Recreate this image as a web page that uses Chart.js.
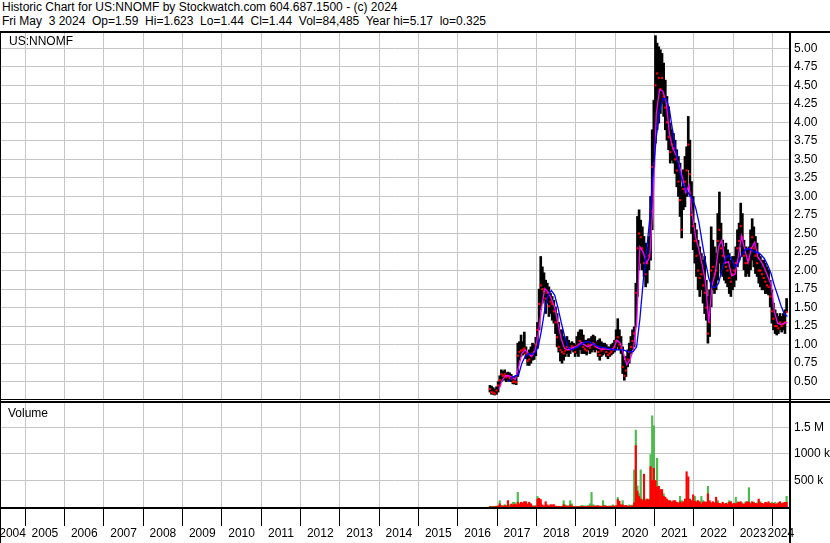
<!DOCTYPE html>
<html>
<head>
<meta charset="utf-8">
<script src="https://cdn.jsdelivr.net/npm/chart.js@4.4.1/dist/chart.umd.min.js"></script>
<style>
  body { margin: 0; background: #fff; }
  #wrap { position: relative; width: 830px; height: 543px; overflow: hidden;
          font-family: Arial, "Liberation Sans", sans-serif; font-size: 12px; color: #000; }
  .txt { position: absolute; white-space: pre; line-height: 14px; }
  .ln { position: absolute; background: #000; }
  canvas { position: absolute; left: 0; }
</style>
</head>
<body>
<div id="wrap">
  <div class="txt" style="left:2px;top:0">Historic Chart for US:NNOMF by Stockwatch.com 604.687.1500 - (c) 2024
Fri May  3 2024  Op=1.59  Hi=1.623  Lo=1.44  Cl=1.44  Vol=84,485  Year hi=5.17  lo=0.325</div>
  <canvas id="priceChart" width="830" height="366" style="top:33px"></canvas>
  <canvas id="volChart" width="830" height="140" style="top:403px"></canvas>
  <div class="txt" style="left:9px;top:34px">US:NNOMF</div>
  <div class="txt" style="left:8px;top:406px">Volume</div>
  <div class="ln" style="left:0;top:31px;width:830px;height:2px"></div>
  <div class="ln" style="left:0;top:399px;width:830px;height:1px"></div>
  <div class="ln" style="left:0;top:401px;width:830px;height:2px"></div>
  <div class="ln" style="left:0;top:507px;width:790px;height:2px"></div>
  <div class="ln" style="left:789px;top:31px;width:2px;height:512px"></div>
  <div class="ln" style="left:0;top:31px;width:1px;height:512px"></div>
</div>
<script>
// half-month periods, first one = second half of Oct 2016
const firstPeriod = 2016.8125;
const periodLen = 1 / 24;

const hiPrice = [
  0.45, 0.44, 0.42, 0.40, 0.43,
  0.50, 0.58, 0.66, 0.64, 0.66, 0.62, 0.63, 0.62, 0.60, 0.57, 0.57, 0.58, 1.02, 1.04, 1.13, 1.04, 1.17, 0.97, 0.88, 0.93, 0.97, 1.02, 1.00, 1.10,
  1.30, 1.75, 2.19, 2.05, 1.97, 1.87, 1.83, 1.78, 1.69, 1.65, 1.60, 1.51, 1.42, 1.30, 1.20, 1.20, 1.11, 1.06, 1.11, 1.06, 1.02, 1.04, 1.02, 1.00,
  1.11, 1.17, 1.20, 1.20, 1.13, 1.06, 1.06, 1.08, 1.08, 1.11, 1.13, 1.11, 1.04, 1.06, 1.08, 1.04, 1.02, 1.02, 1.00, 0.97, 0.97, 1.00, 1.02, 1.06,
  1.20, 1.35, 1.20, 1.11, 0.97, 0.79, 0.84, 0.93, 1.02, 1.11, 1.20, 1.24, 1.83, 2.73, 2.82, 2.68, 2.59, 2.46, 2.37, 2.32, 2.46, 3.00, 3.90, 4.30,
  5.17, 5.07, 5.02, 4.98, 4.93, 4.80, 4.57, 4.35, 4.21, 3.99, 3.90, 3.85, 3.76, 3.63, 3.54, 3.45, 3.13, 3.36, 3.54, 3.67, 4.08, 3.76, 3.20, 3.00,
  2.64, 2.55, 2.41, 2.32, 2.23, 2.14, 2.19, 1.87, 1.65, 1.74, 2.59, 2.41, 2.32, 2.23, 2.77, 3.06, 2.64, 2.41, 2.32, 2.37, 2.28, 2.23, 2.14, 2.19,
  2.19, 2.32, 2.55, 2.64, 2.91, 2.77, 2.41, 2.32, 2.28, 2.32, 2.55, 2.70, 2.59, 2.46, 2.37, 2.23, 2.19, 2.14, 2.14, 2.10, 2.05, 2.01, 1.87, 1.74,
  1.56, 1.47, 1.42, 1.38, 1.42, 1.38, 1.42, 1.47, 1.623
];
const loPrice = [
  0.36, 0.33, 0.33, 0.32, 0.33,
  0.36, 0.44, 0.50, 0.52, 0.52, 0.50, 0.52, 0.50, 0.50, 0.47, 0.47, 0.46, 0.57, 0.79, 0.84, 0.86, 0.88, 0.81, 0.72, 0.72, 0.75, 0.79, 0.80, 0.85,
  0.95, 1.20, 1.47, 1.56, 1.60, 1.42, 1.56, 1.38, 1.42, 1.33, 1.29, 1.15, 0.97, 0.90, 0.78, 0.75, 0.79, 0.84, 0.88, 0.84, 0.88, 0.93, 0.90, 0.84,
  0.88, 0.84, 0.93, 0.88, 0.88, 0.88, 0.86, 0.93, 0.88, 0.90, 0.93, 0.90, 0.93, 0.84, 0.79, 0.84, 0.86, 0.88, 0.84, 0.81, 0.84, 0.86, 0.88, 0.90,
  0.93, 0.97, 0.93, 0.88, 0.61, 0.52, 0.57, 0.70, 0.75, 0.88, 0.93, 0.97, 1.24, 1.65, 2.01, 2.10, 2.01, 1.92, 1.78, 1.83, 2.01, 2.14, 2.55, 3.40,
  3.72, 3.90, 3.99, 4.12, 4.26, 4.08, 3.90, 3.76, 3.63, 3.45, 3.49, 3.45, 3.31, 3.13, 3.00, 2.73, 2.44, 2.82, 2.86, 3.00, 3.36, 3.00, 2.50, 2.28,
  2.10, 1.92, 1.74, 1.65, 1.74, 1.56, 1.42, 1.33, 1.02, 1.11, 1.51, 1.74, 1.69, 1.74, 1.87, 2.10, 1.96, 1.92, 1.87, 1.83, 1.78, 1.69, 1.65, 1.74,
  1.78, 1.87, 2.05, 2.14, 2.32, 2.19, 2.01, 1.92, 1.96, 1.92, 2.01, 2.14, 2.05, 1.96, 1.92, 1.83, 1.78, 1.74, 1.74, 1.69, 1.69, 1.67, 1.51, 1.29,
  1.20, 1.15, 1.13, 1.15, 1.20, 1.17, 1.20, 1.15, 1.44
];
const closePrice = [
  0.40, 0.36, 0.35, 0.34, 0.38,
  0.45, 0.52, 0.60, 0.58, 0.60, 0.56, 0.58, 0.55, 0.54, 0.50, 0.50, 0.49, 0.85, 0.90, 0.92, 0.93, 0.95, 0.88, 0.78, 0.80, 0.85, 0.88, 0.90, 1.00,
  1.20, 1.55, 1.80, 1.75, 1.72, 1.62, 1.70, 1.52, 1.58, 1.55, 1.45, 1.30, 1.10, 0.97, 0.93, 0.90, 0.88, 0.92, 0.97, 0.93, 0.95, 0.98, 0.95, 0.90,
  0.98, 1.00, 1.05, 1.02, 0.97, 0.94, 0.92, 1.00, 0.96, 1.00, 1.02, 0.98, 0.97, 0.90, 0.86, 0.92, 0.94, 0.95, 0.90, 0.86, 0.88, 0.90, 0.93, 0.97,
  1.05, 1.10, 1.00, 0.95, 0.70, 0.58, 0.65, 0.80, 0.90, 0.97, 1.05, 1.15, 1.70, 2.30, 2.50, 2.45, 2.30, 2.10, 1.95, 2.10, 2.20, 2.80, 3.40, 3.45,
  4.50, 4.66, 4.60, 4.45, 4.60, 4.35, 4.20, 4.00, 3.80, 3.60, 3.70, 3.65, 3.50, 3.35, 3.20, 2.95, 2.55, 3.10, 3.20, 3.35, 3.70, 3.30, 2.75, 2.60,
  2.40, 2.20, 2.00, 1.90, 1.95, 1.80, 1.70, 1.50, 1.15, 1.30, 2.00, 2.05, 1.95, 2.00, 2.40, 2.55, 2.30, 2.20, 2.10, 2.05, 2.00, 1.90, 1.85, 1.95,
  2.00, 2.10, 2.30, 2.40, 2.60, 2.45, 2.20, 2.10, 2.10, 2.15, 2.30, 2.45, 2.30, 2.20, 2.10, 2.00, 2.00, 1.95, 1.90, 1.85, 1.80, 1.78, 1.65, 1.45,
  1.35, 1.25, 1.25, 1.22, 1.30, 1.25, 1.28, 1.30, 1.44
];
// volume in thousands of shares, up periods and down periods
const volUp = [
  15, 10, 15, 12, 20,
  25, 120, 20, 25, 45, 30, 20, 45, 25, 90, 90, 60, 275, 40, 45, 30, 100, 60, 40, 80, 40, 15, 20, 25,
  200, 90, 60, 20, 15, 40, 30, 15, 20, 15, 10, 12, 10, 8, 10, 15, 120, 40, 20, 25, 120, 60, 15, 10,
  12, 10, 15, 30, 25, 20, 20, 30, 60, 275, 45, 25, 20, 15, 20, 15, 120, 30, 20, 15, 20, 20, 40, 20,
  30, 180, 60, 40, 120, 30, 25, 15, 40, 25, 40, 700, 1450, 400, 250, 700, 150, 150, 150, 120, 150, 990, 1720, 1530,
  300, 920, 390, 300, 260, 250, 150, 120, 120, 100, 100, 80, 70, 60, 90, 200, 120, 60, 40, 60, 50, 90, 100, 60,
  200, 120, 60, 40, 200, 120, 80, 60, 390, 100, 60, 80, 60, 90, 120, 60, 50, 60, 40, 60, 80, 120, 60, 50,
  60, 185, 100, 60, 50, 80, 60, 100, 60, 365, 80, 60, 90, 60, 80, 120, 100, 60, 50, 60, 40, 60, 50, 90,
  60, 90, 60, 50, 60, 70, 70, 60, 200
];
const volDown = [
  5, 5, 0, 8, 10,
  15, 60, 25, 10, 25, 20, 120, 10, 55, 40, 55, 40, 90, 60, 90, 80, 100, 100, 60, 90, 60, 20, 10, 20,
  150, 165, 140, 40, 20, 100, 40, 20, 45, 40, 45, 20, 10, 15, 8, 10, 45, 20, 15, 15, 40, 15, 10, 5,
  8, 5, 10, 10, 12, 10, 10, 10, 15, 20, 15, 15, 20, 25, 10, 15, 20, 20, 15, 10, 15, 10, 20, 15,
  20, 140, 110, 40, 40, 20, 30, 20, 15, 20, 20, 80, 1160, 300, 200, 150, 120, 620, 120, 150, 130, 760, 500, 730,
  500, 380, 390, 330, 330, 200, 185, 150, 120, 120, 90, 120, 120, 90, 70, 100, 80, 100, 150, 665, 570, 150, 120, 230,
  110, 90, 120, 100, 60, 90, 100, 90, 250, 120, 80, 100, 80, 185, 80, 70, 60, 90, 60, 70, 50, 90, 100, 60,
  70, 60, 80, 90, 100, 60, 50, 80, 100, 90, 60, 100, 80, 70, 60, 150, 80, 70, 60, 90, 80, 100, 70, 60,
  70, 50, 60, 80, 100, 60, 80, 90, 85
];

// monthly moving averages, first month = Jan 2017
const maFirstMonth = 2017 + 1 / 24;
const maShort = [
  0.40, 0.52, 0.58, 0.58, 0.56, 0.53, 0.70, 0.88, 0.93, 0.88, 0.84, 0.92,
  1.15, 1.50, 1.76, 1.71, 1.62, 1.50, 1.29, 1.08, 0.95, 0.93, 0.95, 0.97,
  0.97, 1.03, 1.00, 0.97, 0.99, 1.01, 0.96, 0.94, 0.94, 0.94, 0.93, 0.95,
  1.06, 1.02, 0.88, 0.73, 0.80, 0.93, 1.30, 2.32, 2.25, 2.10, 2.19, 2.90,
  4.12, 4.44, 4.42, 4.28, 3.85, 3.65, 3.56, 3.42, 3.25, 3.05, 3.15, 2.75,
  2.45, 2.28, 2.08, 1.85, 1.30, 1.80, 1.97, 2.32, 2.41, 2.10, 2.12, 1.93,
  1.95, 2.18, 2.47, 2.28, 2.11, 2.30, 2.38, 2.18, 2.12, 2.03, 1.92, 1.82,
  1.45, 1.29, 1.27, 1.29, 1.30
];
const maLong = [
  null, null, null, 0.50, 0.56, 0.58, 0.59, 0.75, 0.84, 0.88, 0.87, 0.89,
  0.97, 1.20, 1.48, 1.67, 1.73, 1.67, 1.50, 1.30, 1.12, 0.98, 0.93, 0.95,
  0.97, 1.00, 1.03, 1.04, 1.03, 1.00, 0.98, 0.97, 0.96, 0.95, 0.94, 0.93,
  0.93, 0.93, 0.93, 0.91, 0.90, 0.91, 0.97, 1.35, 1.85, 2.25, 2.70, 3.30,
  3.80, 4.15, 4.32, 4.32, 4.18, 3.88, 3.62, 3.37, 3.18, 3.10, 3.03, 2.97,
  2.85, 2.65, 2.38, 2.12, 1.90, 1.78, 1.77, 1.83, 2.01, 2.16, 2.21, 2.15,
  2.05, 2.09, 2.21, 2.28, 2.30, 2.28, 2.25, 2.25, 2.21, 2.16, 2.07, 1.96,
  1.80, 1.67, 1.53, 1.42, 1.38
];

const priceTicks = [0.50, 0.75, 1.00, 1.25, 1.50, 1.75, 2.00, 2.25, 2.50, 2.75, 3.00, 3.25, 3.50, 3.75, 4.00, 4.25, 4.50, 4.75, 5.00];
const volTicks = [500, 1000, 1500];
const volTickLabels = ['500 k', '1000 k', '1.5 M'];
const yearLabels = ['2004', '2005', '2006', '2007', '2008', '2009', '2010', '2011', '2012', '2013', '2014',
  '2015', '2016', '2017', '2018', '2019', '2020', '2021', '2022', '2023', '2024'];

// visible time window
const xMin = 2004.359, xMax = 2024.415;
const GRID = '#c6c6c6';
const FONT = { family: 'Arial, "Liberation Sans", sans-serif', size: 12 };
const CLEAR = 'rgba(0,0,0,0)';

const yearLines = yearLabels.slice(1).map(Number);
const labelAt = new Map();
yearLabels.forEach(l => {
  const y = Number(l);
  labelAt.set((Math.max(y, xMin) + Math.min(y + 1, xMax)) / 2, l);
});

const tAt = i => firstPeriod + i * periodLen;
const maAt = k => maFirstMonth + k / 12;

const priceBars = hiPrice.map((h, i) => ({ x: tAt(i), y: [loPrice[i], h] }));
const closes = closePrice.map((c, i) => ({ x: tAt(i), y: c }));
const shortLine = maShort.map((v, k) => ({ x: maAt(k), y: v }));
const longLine = maLong.map((v, k) => ({ x: maAt(k), y: v }));

// keep chart areas exactly where the reference panels are
function noPad(s) { s.paddingLeft = 0; s.paddingRight = 0; s.paddingTop = 0; s.paddingBottom = 0; }
function rightAxis(s) { s.width = 41; noPad(s); }

new Chart(document.getElementById('priceChart'), {
  type: 'bar',
  data: {
    datasets: [
      { type: 'line', data: longLine, borderColor: '#0000ff', borderWidth: 1.3, pointRadius: 0, tension: 0 },
      { type: 'line', data: shortLine, borderColor: '#ff00ff', borderWidth: 1.3, pointRadius: 0, tension: 0 },
      { type: 'scatter', data: closes, backgroundColor: '#ff0000', borderWidth: 0, pointStyle: 'rect', pointRadius: 1.5 },
      { type: 'bar', data: priceBars, backgroundColor: '#000', barThickness: 2, grouped: false }
    ]
  },
  options: {
    responsive: false, animation: false,
    layout: { padding: 0, autoPadding: false },
    plugins: { legend: { display: false }, tooltip: { enabled: false } },
    scales: {
      x: {
        type: 'linear', min: xMin, max: xMax, offset: false,
        afterBuildTicks: s => { s.ticks = yearLines.map(v => ({ value: v })); },
        afterFit: s => { s.height = 0; noPad(s); },
        ticks: { display: false },
        grid: { color: GRID, drawTicks: false, offset: false },
        border: { display: false }
      },
      y: {
        position: 'right', min: 0.2665, max: 5.206,
        afterBuildTicks: s => { s.ticks = priceTicks.map(v => ({ value: v })); },
        afterFit: rightAxis,
        ticks: { color: '#000', font: FONT, padding: 5, callback: v => Number(v).toFixed(2) },
        grid: { color: GRID, drawTicks: false },
        border: { display: false }
      }
    }
  }
});

new Chart(document.getElementById('volChart'), {
  type: 'bar',
  data: {
    datasets: [
      { data: volDown.map((v, i) => ({ x: tAt(i), y: v })), backgroundColor: '#ff0000', barThickness: 1.5, grouped: false },
      { data: volUp.map((v, i) => ({ x: tAt(i), y: v })), backgroundColor: '#4cbb4c', barThickness: 1.5, grouped: false }
    ]
  },
  options: {
    responsive: false, animation: false,
    layout: { padding: 0, autoPadding: false },
    plugins: { legend: { display: false }, tooltip: { enabled: false } },
    scales: {
      x: {
        type: 'linear', min: xMin, max: xMax, offset: false,
        afterBuildTicks: s => {
          s.ticks = yearLines.map(v => ({ value: v })).concat([...labelAt.keys()].map(v => ({ value: v })));
        },
        afterFit: s => { s.height = 36; noPad(s); },
        ticks: {
          autoSkip: false, maxRotation: 0, minRotation: 0, padding: 0,
          color: '#000', font: FONT,
          callback: v => labelAt.get(v) || ''
        },
        grid: {
          offset: false,
          color: c => (c.tick && yearLines.includes(c.tick.value)) ? GRID : CLEAR,
          tickColor: c => (c.tick && yearLines.includes(c.tick.value)) ? '#000' : CLEAR,
          tickLength: 19
        },
        border: { display: false }
      },
      y: {
        position: 'right', min: 0, max: 1962,
        afterBuildTicks: s => { s.ticks = volTicks.map(v => ({ value: v })); },
        afterFit: rightAxis,
        ticks: { color: '#000', font: FONT, padding: 5, callback: v => volTickLabels[volTicks.indexOf(v)] },
        grid: { color: GRID, drawTicks: false },
        border: { display: false }
      }
    }
  }
});
</script>
</body>
</html>
